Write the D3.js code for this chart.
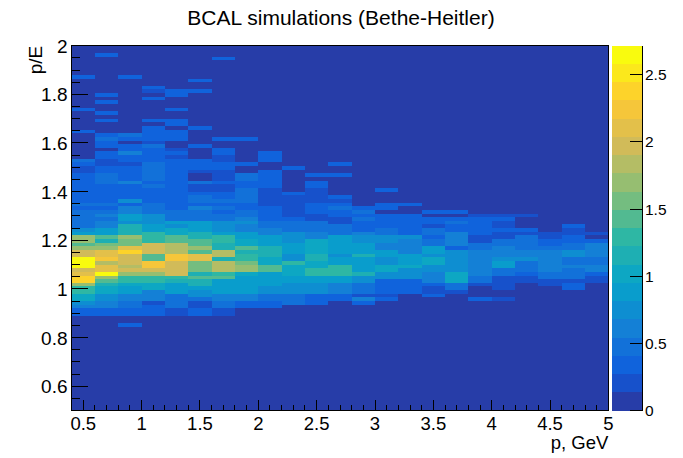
<!DOCTYPE html>
<html>
<head>
<meta charset="utf-8">
<script src="https://cdn.jsdelivr.net/npm/d3@7"></script>
<style>
  body { margin: 0; background: #fff; }
  svg { display: block; }
  text { font-family: "Liberation Sans", Arial, Helvetica, sans-serif; fill: #000; }
</style>
</head>
<body>
<svg id="chart" width="683" height="458"></svg>
<script>
// histogram binning
const pRange = [0.4, 5.0];
const eRange = [0.5, 2.0];
const nPBins = 23;
const nEBins = 100;
const firstRow = 20; // rows below this are empty
const zMax = 2.716;
const nLevels = 20;

// contour level (0-9, a-j) of each p/E bin, one string per p bin, rows from p/E = 0.80 upward
const levelRows = [
  "0000002245 7799chhfej jjeecacc65 3333323222 2222211230 0000002000 0020000000 0200000000",
  "0000002244 55778acjff dgffcb8a66 4434323222 2233322112 2022320002 0200202000 0000000200",
  "0002002233 4466799ced eeehfbbc88 8566442522 2242222122 4220230000 0000000000 0200000000",
  "0000002221 4447799ceg gaaeee9996 6555333222 2323333322 2231222202 0000020120",
  "0000001133 3366689eee eggdddaa77 5633322222 2222222221 2100222022 0020002200",
  "0000002211 355688a8bb bffacaa886 6633342332 1130012220 0020000200 0000000200 2000000000",
  "0000001133 446666a9dd d8dd889965 5533232322 1121112211 2200200000 0000000000 0000002000",
  "0000000022 44666667cc b998a77664 4543322333 3223300200 0000200000",
  "0000000022 33556666aa 7788866644 3322221111 1222220022 2000000000",
  "0000000003 3355566777 9556665553 3321111112 0000002000",
  "0000000002 2255566997 7887777443 3311222111 1220200000",
  "0000000000 2244466999 6656666633 3112232120 0000200200",
  "0000000002 4133355866 6686665542 2232320000",
  "0000000000 2122225577 5566445533 2222022000 2000000000",
  "0000000000 0022225557 6664444522 2222002000",
  "0000000000 0211244455 7756633233 1220200000",
  "0000000000 0013377755 5555244442 2320200000",
  "0000000000 2000133444 4444331122 2221000000",
  "0000000000 1001111336 6544433112 1121000000",
  "0000000000 0000011233 3544333312 0001000000",
  "0000000000 0000113344 4444322110",
  "0000000000 0002213334 3355332211 2000000000",
  "0000000000 0000011244 3344442010"
];

const xTicks = [0.5, 1, 1.5, 2, 2.5, 3, 3.5, 4, 4.5, 5];
const yTicks = [0.6, 0.8, 1, 1.2, 1.4, 1.6, 1.8, 2];
const zTicks = [0, 0.5, 1, 1.5, 2, 2.5];

const title = "BCAL simulations (Bethe-Heitler)";
const xTitle = "p, GeV";
const yTitle = "p/E";

// ROOT kBird palette
const birdStops = [
  [0.2082, 0.1664, 0.5293], [0.0592, 0.3599, 0.8684], [0.0780, 0.5041, 0.8385],
  [0.0232, 0.6419, 0.7914], [0.1802, 0.7178, 0.6425], [0.5301, 0.7492, 0.4662],
  [0.8186, 0.7328, 0.3499], [0.9956, 0.7862, 0.1968], [0.9764, 0.9832, 0.0539]
].map(c => d3.rgb(c[0] * 255, c[1] * 255, c[2] * 255));
const bird = d3.piecewise(d3.interpolateRgb, birdStops);
const nCol = 255;
const bandColors = d3.range(nLevels).map(i => bird(Math.floor((i + 0.99) * nCol / nLevels) / (nCol - 1)));

// decode bins
const zStep = zMax / nLevels;
const cells = [];
levelRows.forEach((s, c) => {
  const str = s.replace(/ /g, "").padEnd(nEBins - firstRow, "0");
  for (let r = 0; r < nEBins; r++) {
    const lvl = r < firstRow ? 0 : parseInt(str[r - firstRow], 20);
    cells.push({ c, r, z: (lvl + 0.5) * zStep });
  }
});

const margin = { left: 71.6, right: 608.4, top: 45.7, bottom: 410.5 };
const svg = d3.select("#chart");

const x = d3.scaleLinear().domain(pRange).range([margin.left, margin.right]);
const y = d3.scaleLinear().domain(eRange).range([margin.bottom, margin.top]);
const color = d3.scaleQuantize().domain([0, zMax]).range(bandColors);

const pW = (pRange[1] - pRange[0]) / nPBins;
const eW = (eRange[1] - eRange[0]) / nEBins;

svg.append("g")
  .attr("shape-rendering", "crispEdges")
  .selectAll("rect")
  .data(cells)
  .join("rect")
  .attr("x", d => x(pRange[0] + d.c * pW))
  .attr("width", d => x(pRange[0] + (d.c + 1) * pW) - x(pRange[0] + d.c * pW))
  .attr("y", d => y(eRange[0] + (d.r + 1) * eW))
  .attr("height", d => y(eRange[0] + d.r * eW) - y(eRange[0] + (d.r + 1) * eW))
  .attr("fill", d => color(d.z));

// frame
svg.append("rect")
  .attr("x", margin.left).attr("y", margin.top)
  .attr("width", margin.right - margin.left)
  .attr("height", margin.bottom - margin.top)
  .attr("fill", "none").attr("stroke", "#000").attr("stroke-width", 1)
  .attr("shape-rendering", "crispEdges");

// x axis ticks (inside, ROOT style)
const xMinor = d3.range(4, 51).map(i => i / 10);
const gx = svg.append("g").attr("stroke", "#000").attr("shape-rendering", "crispEdges");
gx.selectAll("line.minor").data(xMinor).join("line")
  .attr("x1", d => x(d)).attr("x2", d => x(d))
  .attr("y1", margin.bottom).attr("y2", margin.bottom - 5.5);
gx.selectAll("line.major").data(xTicks).join("line")
  .attr("x1", d => x(d)).attr("x2", d => x(d))
  .attr("y1", margin.bottom).attr("y2", margin.bottom - 11);
svg.append("g").selectAll("text").data(xTicks).join("text")
  .attr("x", d => x(d)).attr("y", 430)
  .attr("text-anchor", "middle").attr("font-size", 18.5)
  .text(d => d3.format("~g")(d));

// y axis ticks
const yMinor = d3.range(10, 41).map(i => i / 20);
const gy = svg.append("g").attr("stroke", "#000").attr("shape-rendering", "crispEdges");
gy.selectAll("line.minor").data(yMinor).join("line")
  .attr("x1", margin.left).attr("x2", margin.left + 8)
  .attr("y1", d => y(d)).attr("y2", d => y(d));
gy.selectAll("line.major").data(yTicks).join("line")
  .attr("x1", margin.left).attr("x2", margin.left + 16)
  .attr("y1", d => y(d)).attr("y2", d => y(d));
svg.append("g").selectAll("text").data(yTicks).join("text")
  .attr("x", 67.5).attr("y", d => y(d) + 7)
  .attr("text-anchor", "end").attr("font-size", 19)
  .text(d => d3.format("~g")(d));

// palette
const pal = { x0: 611.5, x1: 642.5 };
const z = d3.scaleLinear().domain([0, zMax]).range([margin.bottom, margin.top]);
svg.append("g").attr("shape-rendering", "crispEdges")
  .selectAll("rect").data(bandColors).join("rect")
  .attr("x", pal.x0).attr("width", pal.x1 - pal.x0)
  .attr("y", (d, i) => z((i + 1) * zStep))
  .attr("height", (d, i) => z(i * zStep) - z((i + 1) * zStep))
  .attr("fill", d => d);
svg.append("g").attr("stroke", "#000").attr("shape-rendering", "crispEdges")
  .selectAll("line").data(zTicks).join("line")
  .attr("x1", pal.x1 - 13).attr("x2", pal.x1)
  .attr("y1", d => z(d)).attr("y2", d => z(d));
svg.append("line")
  .attr("x1", pal.x1).attr("x2", pal.x1)
  .attr("y1", margin.top).attr("y2", margin.bottom)
  .attr("stroke", "#000").attr("shape-rendering", "crispEdges");
svg.append("g").selectAll("text").data(zTicks).join("text")
  .attr("x", pal.x1 + 2.5).attr("y", d => z(d) + 5.5)
  .attr("font-size", 15.5)
  .text(d => d3.format("~g")(d));

// titles
svg.append("text").attr("x", 341).attr("y", 25)
  .attr("text-anchor", "middle").attr("font-size", 21).text(title);
svg.append("text").attr("x", margin.right).attr("y", 449)
  .attr("text-anchor", "end").attr("font-size", 18.5).text(xTitle);
svg.append("text").attr("transform", `translate(42,${margin.top}) rotate(-90)`)
  .attr("text-anchor", "end").attr("font-size", 19).text(yTitle);
</script>
</body>
</html>
